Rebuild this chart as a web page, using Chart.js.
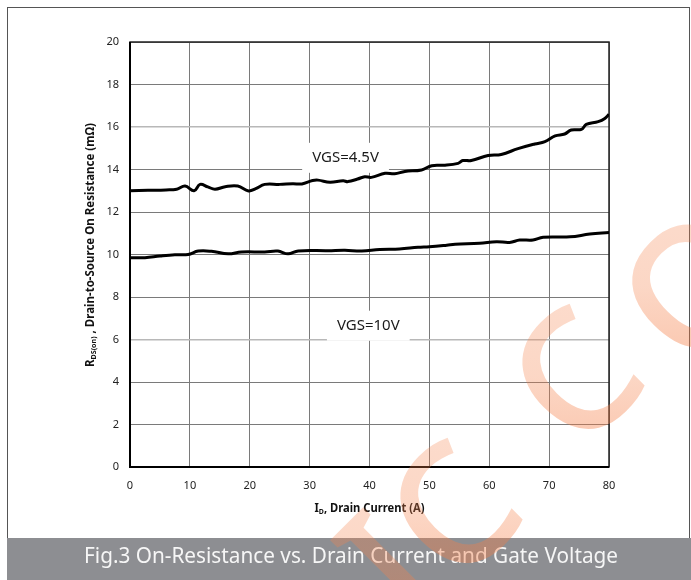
<!DOCTYPE html>
<html>
<head>
<meta charset="utf-8">
<script src="https://cdn.jsdelivr.net/npm/chart.js@4.4.0/dist/chart.umd.min.js"></script>
<style>
html, body { margin: 0; padding: 0; background: #fff; }
#wrap { position: relative; width: 691px; height: 580px; }
</style>
</head>
<body>
<div id="wrap"><canvas id="myChart" width="691" height="580"></canvas></div>
<script>
// values
const current45 = [0, 3, 6, 7.8, 9.2, 10.7, 11.7, 13, 14.2, 15.9, 18, 19.8, 21, 22.5, 25, 27.2, 28.7, 30.5, 31.4, 33.4,
    35.6, 36.4, 38, 39.2, 40.3, 42.6, 44.2, 45.9, 48.7, 50.4, 52.6, 54.8, 55.6, 57, 59.8, 62, 64.8, 67.6, 69.3, 71,
    72.6, 73.7, 75.4, 76.2, 78.2, 79.3, 80];
const rds45 = [13.00, 13.02, 13.04, 13.07, 13.22, 13.00, 13.30, 13.18, 13.07, 13.19, 13.22, 12.99, 13.10, 13.30, 13.30, 13.33, 13.32, 13.48, 13.50, 13.40,
    13.47, 13.43, 13.55, 13.66, 13.63, 13.82, 13.80, 13.91, 13.98, 14.18, 14.20, 14.29, 14.42, 14.42, 14.66, 14.71, 14.98, 15.20, 15.31, 15.58,
    15.67, 15.86, 15.89, 16.12, 16.25, 16.40, 16.60];
const current10 = [0, 2.5, 5, 7.5, 9.7, 11.4, 13.6, 16.4, 18.6, 22.5, 24.7, 26.4, 28.1, 33.1, 35.9, 38.7, 41.7, 45, 48.1, 50,
    52.9, 54.3, 58.4, 61.2, 63.4, 65.1, 67.3, 69, 73.5, 76.8, 80];
const rds10 = [9.85, 9.85, 9.93, 9.99, 10.00, 10.16, 10.15, 10.03, 10.12, 10.12, 10.16, 10.03, 10.17, 10.18, 10.20, 10.16, 10.24, 10.26, 10.34, 10.37,
    10.44, 10.48, 10.53, 10.60, 10.57, 10.68, 10.68, 10.81, 10.83, 10.96, 11.03];
const seriesNames = ['VGS=4.5V', 'VGS=10V'];
const labelAt = [[36, 14.55], [39.8, 6.65]];
const xRange = [0, 80, 10];
const yRange = [0, 20, 2];
const xTitle = [['I', false], ['D', true], [', Drain Current (A)', false]];
const yTitle = [['R', false], ['DS(on)', true], [' , Drain-to-Source On Resistance (m\u03A9)', false]];
const caption = 'Fig.3 On-Resistance vs. Drain Current and Gate Voltage';
const wmGlyphs = ['I', 'C', 'C', 'O'];
const wmCenters = [[389, 566], [452, 510], [574, 376], [694, 286]];

const FONT = '"Noto Sans", "Open Sans", sans-serif';

function toPoints(xs, ys) {
    return xs.map((x, i) => ({ x: x, y: ys[i] }));
}

// text with subscripts, squeezed to a given width
function drawParts(ctx, parts, size, width) {
    let total = 0;
    const widths = parts.map(([t, sub]) => {
        ctx.font = 'bold ' + (sub ? size * 0.62 : size) + 'px ' + FONT;
        const w = ctx.measureText(t).width;
        total += w;
        return w;
    });
    ctx.scale(width / total, 1);
    let x = -total / 2;
    parts.forEach(([t, sub], i) => {
        ctx.font = 'bold ' + (sub ? size * 0.62 : size) + 'px ' + FONT;
        ctx.fillText(t, x, sub ? size * 0.3 : 0);
        x += widths[i];
    });
}

function drawWatermark(ctx) {
    const size = 168;
    const th = -45 * Math.PI / 180;
    ctx.save();
    ctx.font = '500 ' + size + 'px ' + FONT;
    ctx.textAlign = 'left';
    ctx.textBaseline = 'alphabetic';
    const grad = ctx.createLinearGradient(360, 580, 690, 240);
    grad.addColorStop(0, 'rgba(244,110,50,0.55)');
    grad.addColorStop(0.35, 'rgba(245,130,75,0.32)');
    grad.addColorStop(1, 'rgba(246,140,90,0.2)');
    ctx.fillStyle = grad;
    wmGlyphs.forEach((g, i) => {
        const w = ctx.measureText(g).width;
        ctx.save();
        ctx.translate(wmCenters[i][0], wmCenters[i][1]);
        ctx.rotate(th);
        // keep gradient in page coordinates
        ctx.fillStyle = grad;
        ctx.setTransform(ctx.getTransform());
        ctx.fillText(g, -w / 2, size * 0.357);
        ctx.restore();
    });
    ctx.restore();
}

const figurePlugin = {
    id: 'figure',
    beforeDraw(chart) {
        const ctx = chart.ctx;
        ctx.save();
        ctx.fillStyle = '#fff';
        ctx.fillRect(0, 0, chart.width, chart.height);
        ctx.strokeStyle = '#555';
        ctx.lineWidth = 1;
        ctx.strokeRect(7.5, 7.5, 682, 600);
        ctx.restore();
    },
    beforeDatasetsDraw(chart) {
        const ctx = chart.ctx;
        const a = chart.chartArea;
        const xs = chart.scales.x, ys = chart.scales.y;
        ctx.save();
        ctx.strokeStyle = '#222';
        ctx.lineWidth = 1.5;
        ctx.strokeRect(a.left, a.top, a.right - a.left, a.bottom - a.top);
        ctx.strokeStyle = '#000';
        ctx.lineWidth = 2;
        ctx.beginPath();
        ctx.moveTo(a.left, a.top);
        ctx.lineTo(a.left, a.bottom);
        ctx.lineTo(a.right, a.bottom);
        ctx.stroke();
        // series labels on white boxes
        ctx.font = '15px ' + FONT;
        ctx.textAlign = 'center';
        ctx.textBaseline = 'middle';
        seriesNames.forEach((name, i) => {
            const px = xs.getPixelForValue(labelAt[i][0]);
            const py = ys.getPixelForValue(labelAt[i][1]);
            const w = ctx.measureText(name).width + 20;
            ctx.fillStyle = '#fff';
            ctx.fillRect(px - w / 2, py - 15, w, 30);
            ctx.fillStyle = '#1a1a1a';
            ctx.fillText(name, px, py);
        });
        ctx.restore();
    },
    afterDraw(chart) {
        const ctx = chart.ctx;
        const a = chart.chartArea;
        ctx.save();
        ctx.fillStyle = '#111';
        ctx.textAlign = 'left';
        ctx.textBaseline = 'middle';
        ctx.save();
        ctx.translate((a.left + a.right) / 2, 509);
        drawParts(ctx, xTitle, 11.5, 110);
        ctx.restore();
        ctx.save();
        ctx.translate(91, 245);
        ctx.rotate(-Math.PI / 2);
        drawParts(ctx, yTitle, 11.5, 244);
        ctx.restore();

        // caption bar
        ctx.fillStyle = '#8d8e92';
        ctx.fillRect(7, 538, 684, 42);
        ctx.fillStyle = '#f6f6f6';
        ctx.font = '21px ' + FONT;
        ctx.textAlign = 'center';
        ctx.textBaseline = 'middle';
        const cw = ctx.measureText(caption).width;
        ctx.translate(351, 557);
        ctx.scale(534 / cw, 1);
        ctx.fillText(caption, 0, 0);
        ctx.restore();

        drawWatermark(ctx);
    }
};

const gridColor = (c) => (c.tick && (c.tick.value === 6 || c.tick.value === 16)) ? '#b8b8b8' : '#7a7a7a';
const gridWidth = (c) => (c.tick && (c.tick.value === 6 || c.tick.value === 16)) ? 1.6 : 1;

new Chart(document.querySelector('#myChart').getContext('2d'), {
    type: 'line',
    data: {
        datasets: [{
            label: seriesNames[0],
            data: toPoints(current45, rds45),
            borderColor: '#000',
            borderWidth: 3,
            pointRadius: 0,
            tension: 0.4,
            fill: false
        }, {
            label: seriesNames[1],
            data: toPoints(current10, rds10),
            borderColor: '#000',
            borderWidth: 3,
            pointRadius: 0,
            tension: 0.4,
            fill: false
        }]
    },
    options: {
        responsive: false,
        animation: false,
        events: [],
        layout: { padding: { left: 0, right: 82, top: 42, bottom: 0 } },
        plugins: {
            legend: { display: false },
            tooltip: { enabled: false }
        },
        scales: {
            x: {
                type: 'linear',
                min: xRange[0],
                max: xRange[1],
                ticks: { stepSize: xRange[2], color: '#222', padding: 12, font: { size: 11, family: FONT } },
                grid: { color: '#7a7a7a', lineWidth: 1, drawTicks: false },
                border: { display: false },
                afterFit: (s) => { s.height = 113; }
            },
            y: {
                min: yRange[0],
                max: yRange[1],
                ticks: { stepSize: yRange[2], color: '#222', padding: 11, font: { size: 11, family: FONT } },
                grid: { color: gridColor, lineWidth: gridWidth, drawTicks: false },
                border: { display: false },
                afterFit: (s) => { s.width = 130; }
            }
        }
    },
    plugins: [figurePlugin]
});
</script>
</body>
</html>
